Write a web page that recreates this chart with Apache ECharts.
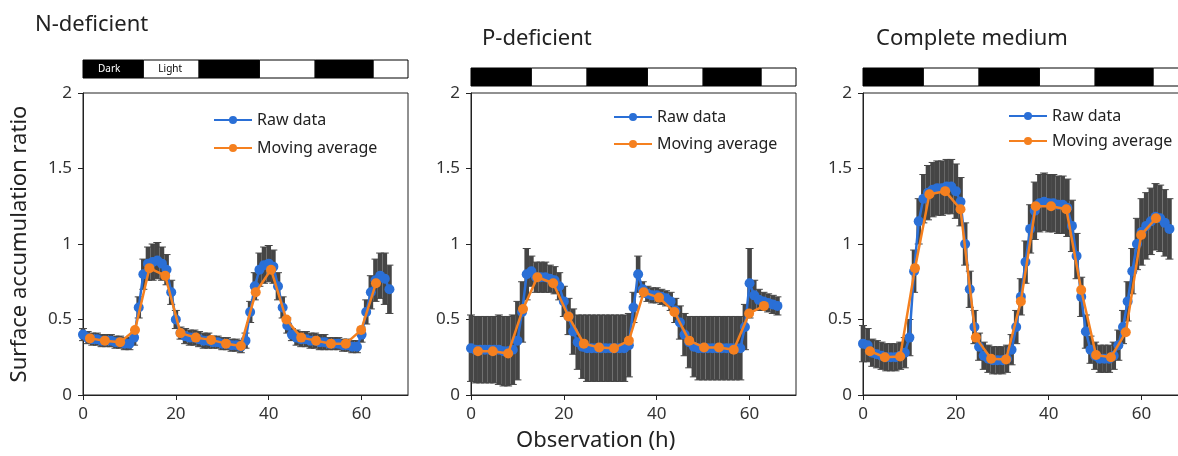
<!DOCTYPE html>
<html>
<head>
<meta charset="utf-8">
<script src="https://cdn.jsdelivr.net/npm/echarts@6/dist/echarts.min.js"></script>
<style>
html,body{margin:0;padding:0;background:#fff;}
#chart{width:1178px;height:456px;}
</style>
</head>
<body>
<div id="chart"></div>
<script>
// ---------- DATA ----------
const panelTitles = ['N-deficient', 'P-deficient', 'Complete medium'];
const xTicks = [0, 20, 40, 60];
const yTicks = [0, 0.5, 1, 1.5, 2];
const phases = [[0, 13, 1], [13, 25, 0], [25, 38, 1], [38, 50, 0], [50, 62.5, 1], [62.5, 70, 0]];
const phaseLabels = ['Dark', 'Light'];

const rawHours = [0,1,2,3,4,5,6,7,8,9,10,11,12,13,14,15,16,17,18,19,20,21,22,23,24,25,26,27,28,29,30,31,32,33,34,35,36,37,38,39,40,41,42,43,44,45,46,47,48,49,50,51,52,53,54,55,56,57,58,59,60,61,62,63,64,65,66];

const rawN = [0.40,0.38,0.37,0.37,0.36,0.36,0.36,0.35,0.35,0.34,0.34,
  0.38,0.58,0.80,0.87,0.88,0.89,0.87,0.83,0.68,0.50,
  0.41,0.39,0.38,0.38,0.37,0.36,0.36,0.35,0.35,0.34,0.34,0.33,0.33,0.32,
  0.36,0.55,0.72,0.83,0.86,0.87,0.85,0.72,0.58,0.46,0.40,
  0.38,0.37,0.37,0.36,0.36,0.35,0.35,0.34,0.34,0.34,0.33,0.33,0.32,0.32,
  0.40,0.55,0.68,0.76,0.79,0.77,0.70];
const errN = [0.04,0.04,0.04,0.04,0.04,0.04,0.04,0.04,0.04,0.04,0.04,
  0.05,0.07,0.10,0.11,0.12,0.12,0.11,0.10,0.08,0.06,
  0.04,0.05,0.05,0.05,0.05,0.05,0.05,0.04,0.04,0.04,0.04,0.04,0.04,0.04,
  0.05,0.07,0.09,0.11,0.12,0.12,0.11,0.09,0.07,0.05,0.04,
  0.05,0.05,0.05,0.05,0.05,0.05,0.05,0.04,0.04,0.04,0.04,0.04,0.04,0.04,
  0.05,0.08,0.11,0.14,0.15,0.17,0.16];

const rawP = [0.31,0.30,0.30,0.30,0.30,0.30,0.30,0.29,0.29,0.30,
  0.36,0.55,0.80,0.82,0.78,0.78,0.78,0.77,0.76,0.72,0.62,0.52,0.42,0.35,0.32,
  0.31,0.31,0.31,0.31,0.31,0.31,0.31,0.31,0.31,
  0.33,0.58,0.80,0.70,0.67,0.66,0.66,0.65,0.64,0.62,0.56,0.48,0.40,0.35,0.32,
  0.31,0.31,0.31,0.31,0.31,0.31,0.31,0.31,0.31,0.31,
  0.45,0.74,0.66,0.63,0.62,0.61,0.60,0.59];
const errP = [0.22,0.22,0.22,0.22,0.22,0.22,0.23,0.23,0.23,0.23,
  0.26,0.20,0.17,0.10,0.10,0.10,0.10,0.09,0.09,0.09,0.10,0.12,0.15,0.18,0.21,
  0.22,0.22,0.22,0.22,0.22,0.22,0.22,0.22,0.22,
  0.21,0.10,0.12,0.05,0.05,0.05,0.05,0.05,0.05,0.06,0.08,0.11,0.14,0.17,0.20,
  0.21,0.21,0.21,0.21,0.21,0.21,0.21,0.21,0.21,0.21,
  0.15,0.23,0.10,0.07,0.06,0.06,0.06,0.06];

const rawC = [0.34,0.33,0.28,0.27,0.26,0.25,0.25,0.25,0.26,0.28,
  0.38,0.82,1.15,1.30,1.34,1.36,1.37,1.37,1.38,1.38,1.35,1.28,
  1.00,0.70,0.45,0.32,0.26,0.24,0.23,0.23,0.23,0.24,
  0.30,0.45,0.65,0.88,1.10,1.22,1.27,1.28,1.27,1.27,1.26,1.26,1.24,
  1.12,0.92,0.65,0.42,0.30,0.26,0.24,0.24,0.24,0.26,
  0.33,0.45,0.62,0.82,1.00,1.08,1.12,1.15,1.18,1.17,1.14,1.10];
const errC = [0.12,0.11,0.09,0.09,0.09,0.09,0.09,0.09,0.09,0.10,
  0.12,0.14,0.15,0.16,0.18,0.18,0.18,0.18,0.18,0.18,0.18,0.16,
  0.14,0.12,0.11,0.09,0.09,0.09,0.09,0.09,0.09,0.09,
  0.10,0.11,0.12,0.14,0.16,0.19,0.19,0.19,0.19,0.19,0.19,0.19,0.19,
  0.17,0.15,0.13,0.11,0.09,0.09,0.09,0.09,0.09,0.09,
  0.10,0.11,0.13,0.15,0.17,0.22,0.22,0.22,0.22,0.22,0.22,0.20];

const maHours = [1.5, 4.7, 8.0, 11.2, 14.3, 17.7, 21.0, 24.3, 27.6, 30.8, 34.0, 37.2, 40.5, 43.8, 47.0, 50.2, 53.4, 56.6, 59.9, 63.1];
const maN = [0.375,0.36,0.35,0.43,0.84,0.79,0.41,0.38,0.365,0.34,0.325,0.68,0.83,0.50,0.38,0.36,0.34,0.34,0.43,0.74];
const maP = [0.29,0.29,0.275,0.57,0.78,0.74,0.52,0.34,0.315,0.31,0.36,0.68,0.645,0.55,0.36,0.315,0.315,0.30,0.54,0.59];
const maC = [0.29,0.25,0.255,0.84,1.33,1.35,1.23,0.38,0.24,0.235,0.62,1.25,1.25,1.23,0.695,0.265,0.25,0.415,1.06,1.17];

// ---------- CHART ----------
const FONT = 'Noto Sans';
const BLUE = '#2a6fd6';
const ORANGE = '#f5801f';
const ERR = '#454545';
const AX = '#222';

const panels = [
  {raw: rawN, err: errN, ma: maN, left: 83, barTop: 60, legTop: 107, legLeft: 208, legGap: 12},
  {raw: rawP, err: errP, ma: maP, left: 471, barTop: 68, legTop: 104, legLeft: 608, legGap: 11},
  {raw: rawC, err: errC, ma: maC, left: 863, barTop: 68, legTop: 103, legLeft: 1003, legGap: 9}
];
const PW = 325, PTOP = 93, PH = 302;

const grids = [], xAxes = [], yAxes = [], series = [], legends = [], titles = [];

panels.forEach((p, i) => {
  grids.push({left: p.left, top: PTOP, width: PW, height: PH, show: true, borderColor: AX, borderWidth: 1,
    backgroundColor: 'transparent', containLabel: false, outerBoundsMode: 'none'});
  xAxes.push({
    gridIndex: i, type: 'value', min: 0, max: 70, interval: 20,
    axisLine: {show: true, lineStyle: {color: AX, width: 1}},
    axisTick: {show: true, length: 5, lineStyle: {color: AX}, customValues: xTicks},
    axisLabel: {fontSize: 17, color: '#333', fontFamily: FONT, margin: 11, customValues: xTicks},
    splitLine: {show: false}
  });
  const ya = {
    gridIndex: i, type: 'value', min: 0, max: 2, interval: 0.5,
    axisLine: {show: true, lineStyle: {color: AX, width: 1}},
    axisTick: {show: true, length: 5, lineStyle: {color: AX}, customValues: yTicks},
    axisLabel: {fontSize: 17, color: '#333', fontFamily: FONT, margin: 11, customValues: yTicks},
    splitLine: {show: false}
  };
  if (i === 0) {
    ya.name = 'Surface accumulation ratio';
    ya.nameLocation = 'middle';
    ya.nameGap = 52;
    ya.nameTextStyle = {fontSize: 22, color: AX, fontFamily: FONT};
  }
  yAxes.push(ya);

  // error bars
  series.push({
    type: 'custom', xAxisIndex: i, yAxisIndex: i, z: 1, silent: true,
    data: rawHours.map((h, k) => [h, p.raw[k], p.err[k]]),
    encode: {x: 0, y: 1},
    renderItem: function (params, api) {
      const x = api.value(0), y = api.value(1), e = api.value(2);
      const top = api.coord([x, y + e]);
      const bot = api.coord([x, y - e]);
      const w = api.size([1, 0])[0];
      const cap = 8;
      return {type: 'group', children: [
        {type: 'rect', shape: {x: top[0] - w / 2, y: top[1], width: w, height: bot[1] - top[1]}, style: {fill: ERR}},
        {type: 'line', shape: {x1: top[0] - cap / 2, y1: top[1], x2: top[0] + cap / 2, y2: top[1]}, style: {stroke: ERR, lineWidth: 1}},
        {type: 'line', shape: {x1: bot[0] - cap / 2, y1: bot[1], x2: bot[0] + cap / 2, y2: bot[1]}, style: {stroke: ERR, lineWidth: 1}}
      ]};
    }
  });
  series.push({
    name: 'Raw data', type: 'line', xAxisIndex: i, yAxisIndex: i, z: 3,
    data: rawHours.map((h, k) => [h, p.raw[k]]),
    symbol: 'circle', symbolSize: 10, showSymbol: true,
    lineStyle: {color: BLUE, width: 2.5}, itemStyle: {color: BLUE}
  });
  series.push({
    name: 'Moving average', type: 'line', xAxisIndex: i, yAxisIndex: i, z: 4,
    data: maHours.map((h, k) => [h, p.ma[k]]),
    symbol: 'circle', symbolSize: 10, showSymbol: true,
    lineStyle: {color: ORANGE, width: 2.5}, itemStyle: {color: ORANGE}
  });

  legends.push({
    orient: 'vertical', left: p.legLeft, top: p.legTop, itemGap: p.legGap,
    itemWidth: 38, itemHeight: 10,
    data: ['Raw data', 'Moving average'],
    textStyle: {fontSize: 16, color: AX, fontFamily: FONT}
  });
});

// light/dark bars
panels.forEach((p, i) => {
  const gi = 3 + i;
  grids.push({left: p.left, top: p.barTop, width: PW, height: 18, containLabel: false, outerBoundsMode: 'none'});
  xAxes.push({gridIndex: gi, type: 'value', min: 0, max: 70, show: false});
  yAxes.push({gridIndex: gi, type: 'value', min: 0, max: 1, show: false});
  series.push({
    type: 'custom', xAxisIndex: gi, yAxisIndex: gi, silent: true, clip: false,
    data: phases,
    encode: {x: [0, 1]},
    renderItem: function (params, api) {
      const s = api.coord([api.value(0), 1]);
      const e = api.coord([api.value(1), 0]);
      const dark = api.value(2) === 1;
      const children = [{type: 'rect', shape: {x: s[0], y: s[1], width: e[0] - s[0], height: e[1] - s[1]},
        style: {fill: dark ? '#000' : '#fff', stroke: '#000', lineWidth: 1}}];
      if (i === 0 && params.dataIndex < phaseLabels.length) {
        children.push({type: 'text', style: {text: phaseLabels[params.dataIndex], x: s[0] + 15, y: (s[1] + e[1]) / 2,
          verticalAlign: 'middle', align: 'left', fill: dark ? '#fff' : '#000', fontSize: 10, fontFamily: FONT}});
      }
      return {type: 'group', children: children};
    }
  });
});

titles.push({text: panelTitles[0], left: 30, top: 9, textStyle: {fontSize: 22, fontWeight: 'normal', color: AX, fontFamily: FONT}});
titles.push({text: panelTitles[1], left: 477, top: 23, textStyle: {fontSize: 22, fontWeight: 'normal', color: AX, fontFamily: FONT}});
titles.push({text: panelTitles[2], left: 871, top: 23, textStyle: {fontSize: 22, fontWeight: 'normal', color: AX, fontFamily: FONT}});
titles.push({text: 'Observation (h)', left: 511, top: 425, textStyle: {fontSize: 22, fontWeight: 'normal', color: AX, fontFamily: FONT}});

const chart = echarts.init(document.getElementById('chart'), null, {renderer: 'canvas'});
chart.setOption({
  animation: false,
  backgroundColor: '#fff',
  textStyle: {fontFamily: FONT},
  title: titles,
  legend: legends,
  grid: grids,
  xAxis: xAxes,
  yAxis: yAxes,
  series: series
});
</script>
</body>
</html>
